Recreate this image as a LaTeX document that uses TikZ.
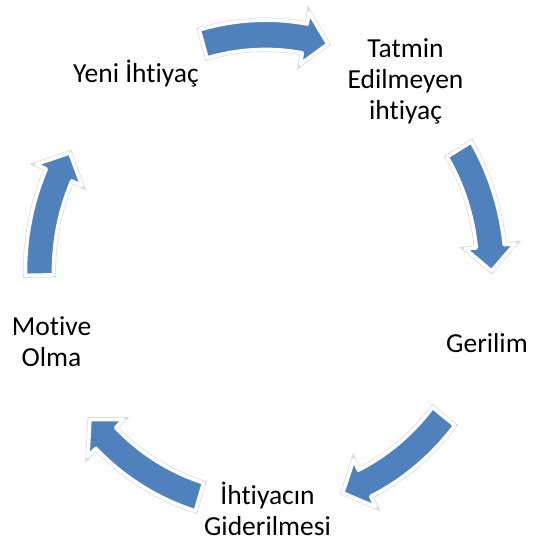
\documentclass[tikz,border=0pt]{standalone}
\usepackage{fontspec}
\setmainfont{Carlito}[Ligatures=NoCommon,Contextuals=NoAlternate]
\usepackage{xcolor}
\usetikzlibrary{positioning}
\definecolor{cycblue}{RGB}{79,129,189}

% curved block arrow round the centre of the cycle: tail angle, tip angle
\newcommand{\cycarrow}[2]{%
  \pgfmathsetmacro{\hb}{#2+6}%
  \draw[cyc] (#1:240) arc[start angle=#1, end angle=\hb, radius=240]
    -- (\hb:251) -- (#2:226) -- (\hb:201) -- (\hb:212)
    arc[start angle=\hb, end angle=#1, radius=212] -- cycle;}

\begin{document}
\begin{tikzpicture}[x=1pt,y=1pt,
  lbl/.style={font=\fontsize{27.5}{31}\selectfont,align=center,inner sep=0pt},
  cyc/.style={fill=cycblue,draw=white,line width=3.6pt,line join=round,
    preaction={draw=black!14,line width=5pt}}]
  \useasboundingbox (0,0) rectangle (534,543);
  \coordinate (c) at (265.5,272);
  \node[lbl] (tatmin) at (405.5,462) {Tatmin\\Edilmeyen\\ihtiyaç};
  \node[lbl,anchor=base] (gerilim) at (487,190) {Gerilim};
  \node[lbl] (giderme) at (267.5,34) {İhtiyacın\\Giderilmesi};
  \node[lbl] (motive) at (51.5,201) {Motive\\Olma};
  \node[lbl,anchor=base] (yeni) at (136,460) {Yeni İhtiyaç};
  % arrows sit on a slightly tall ellipse
  \begin{scope}[shift={(c)},yscale=1.045]
    \cycarrow{106}{74}
    \cycarrow{31}{0}
    \cycarrow{-38}{-70}
    \cycarrow{-107}{-141}
    \cycarrow{181}{150}
  \end{scope}
\end{tikzpicture}
\end{document}
